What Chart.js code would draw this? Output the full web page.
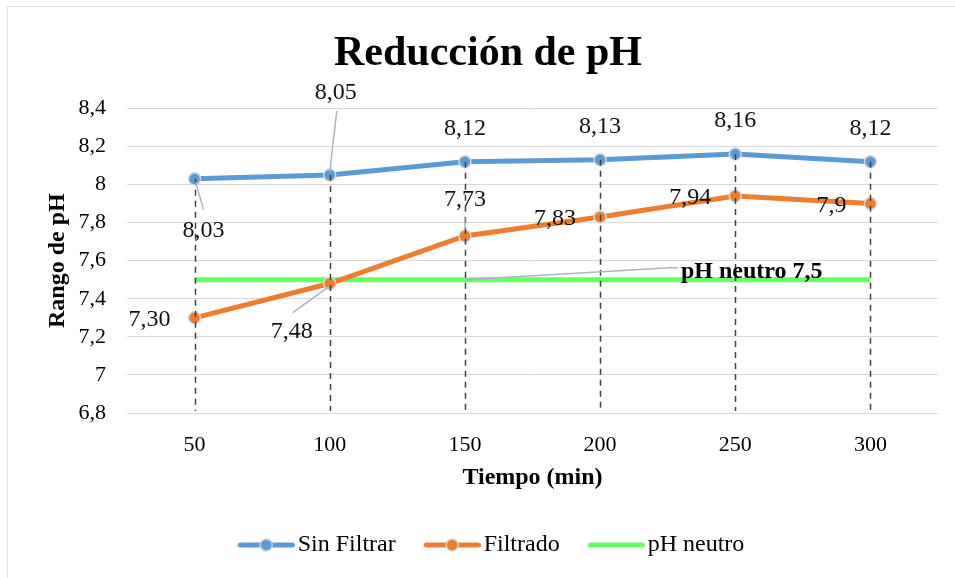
<!DOCTYPE html>
<html><head><meta charset="utf-8">
<script src="https://cdn.jsdelivr.net/npm/chart.js@4/dist/chart.umd.min.js"></script>
<style>
html,body{margin:0;padding:0;background:#fff;}
#wrap{position:relative;width:955px;height:578px;overflow:hidden;background:#fff;}
#frame{position:absolute;left:7px;top:6px;width:1000px;height:1000px;border-left:1px solid #dfe2e7;border-top:1px solid #dfe2e7;}
canvas{position:absolute;left:0;top:0;}
</style></head><body>
<div id="wrap"><div id="frame"></div><canvas id="c" width="955" height="578"></canvas></div>
<script>
// ---- data ----
const categories = ["50","100","150","200","250","300"];
const sinFiltrar = [8.03, 8.05, 8.12, 8.13, 8.16, 8.12];
const filtrado = [7.30, 7.48, 7.73, 7.83, 7.94, 7.90];
const phNeutro = [7.5, 7.5, 7.5, 7.5, 7.5, 7.5];
const sinFiltrarLabels = ["8,03", "8,05", "8,12", "8,13", "8,16", "8,12"];
const filtradoLabels = ["7,30", "7,48", "7,73", "7,83", "7,94", "7,9"];
const phNeutroLabel = "pH neutro 7,5";
const seriesNames = ["Sin Filtrar", "Filtrado", "pH neutro"];
const titleText = "Reducción de pH";
const xTitle = "Tiempo (min)";
const yTitle = "Rango de pH";
const yMin = 6.8, yMax = 8.4, yStep = 0.2;

// ---- styles ----
const BLUE = '#5b9bd5', ORANGE = '#ed7d31', GREEN = '#66ff66';
const SERIF = "'Liberation Serif', 'Times New Roman', serif";

// label placement relative to the point (pixels)
const labelPlacement = [
  [ {dx:9, dy:52, align:'center', leader:[[1,3],[9,31]]},
    {dx:6, dy:-82, align:'center', leader:[[0,-3],[7,-64]]},
    {dx:0, dy:-33, align:'center'}, {dx:0, dy:-33, align:'center'},
    {dx:0, dy:-33, align:'center'}, {dx:0, dy:-33, align:'center'} ],
  [ {dx:-24, dy:2, align:'right'},
    {dx:-38, dy:48, align:'center', leader:[[-1,3],[-37,29]]},
    {dx:0, dy:-36, align:'center', leader:[[0,-7],[0,-19]]},
    {dx:-24, dy:2, align:'right'}, {dx:-24, dy:2, align:'right'}, {dx:-24, dy:2, align:'right'} ]
];
const labelTexts = [sinFiltrarLabels, filtradoLabels];
const phLabelPlacement = {index:2, dx:216, dy:-8, leader:[[0,0],[205,-12],[213,-12]]};

// legend swatch: line + marker drawn into an image
function makeSwatch(color, marker) {
  const c = document.createElement('canvas');
  c.width = 72; c.height = 16;
  const g = c.getContext('2d');
  g.strokeStyle = color; g.lineWidth = 5; g.lineCap = 'round';
  g.beginPath(); g.moveTo(17.5, 8); g.lineTo(69.5, 8); g.stroke();
  if (marker) {
    g.beginPath(); g.arc(43.5, 8, 6, 0, Math.PI * 2);
    g.fillStyle = color; g.fill();
    g.lineWidth = 1.5; g.strokeStyle = '#d6d6d6'; g.stroke();
  }
  return c;
}
const swatches = [makeSwatch(BLUE, true), makeSwatch(ORANGE, true), makeSwatch(GREEN, false)];

const annotationPlugin = {
  id: 'annot',
  afterDatasetsDraw(chart) {
    const ctx = chart.ctx;
    const area = chart.chartArea;
    const m0 = chart.getDatasetMeta(0);
    // drop lines
    ctx.save();
    ctx.strokeStyle = '#404040';
    ctx.lineWidth = 1.5;
    ctx.setLineDash([6, 5]);
    m0.data.forEach(pt => {
      ctx.beginPath();
      ctx.moveTo(Math.round(pt.x) + 0.5, pt.y);
      ctx.lineTo(Math.round(pt.x) + 0.5, area.bottom - 2);
      ctx.stroke();
    });
    ctx.restore();
    // data labels
    ctx.save();
    ctx.font = "24px " + SERIF;
    ctx.textBaseline = 'middle';
    for (let d = 0; d < 2; d++) {
      const meta = chart.getDatasetMeta(d);
      meta.data.forEach((pt, i) => {
        const p = labelPlacement[d][i];
        if (p.leader) {
          ctx.save();
          ctx.strokeStyle = '#a9b4c2'; ctx.lineWidth = 1.5;
          ctx.beginPath();
          ctx.moveTo(pt.x + p.leader[0][0], pt.y + p.leader[0][1]);
          for (let k = 1; k < p.leader.length; k++) ctx.lineTo(pt.x + p.leader[k][0], pt.y + p.leader[k][1]);
          ctx.stroke();
          ctx.restore();
        }
        ctx.fillStyle = '#111';
        ctx.textAlign = p.align;
        ctx.fillText(labelTexts[d][i], pt.x + p.dx, pt.y + p.dy);
      });
    }
    // pH neutro label
    const m2 = chart.getDatasetMeta(2);
    const q = m2.data[phLabelPlacement.index];
    ctx.strokeStyle = '#a9b4c2'; ctx.lineWidth = 1.5;
    ctx.beginPath();
    const L = phLabelPlacement.leader;
    ctx.moveTo(q.x + L[0][0], q.y + L[0][1]);
    for (let k = 1; k < L.length; k++) ctx.lineTo(q.x + L[k][0], q.y + L[k][1]);
    ctx.stroke();
    ctx.font = "bold 24px " + SERIF;
    ctx.fillStyle = '#000';
    ctx.textAlign = 'left';
    ctx.fillText(phNeutroLabel, q.x + phLabelPlacement.dx, q.y + phLabelPlacement.dy);
    ctx.restore();
  }
};

const fmt = v => String(Number(v.toFixed(1))).replace('.', ',');

new Chart(document.getElementById('c'), {
  type: 'line',
  data: {
    labels: categories,
    datasets: [
      { label: seriesNames[0], data: sinFiltrar, borderColor: BLUE, backgroundColor: BLUE,
        borderWidth: 5, pointRadius: 6, pointBorderWidth: 1.5, pointBorderColor: '#d6d6d6',
        pointBackgroundColor: BLUE, tension: 0 },
      { label: seriesNames[1], data: filtrado, borderColor: ORANGE, backgroundColor: ORANGE,
        borderWidth: 5, pointRadius: 6, pointBorderWidth: 1.5, pointBorderColor: '#d6d6d6',
        pointBackgroundColor: ORANGE, tension: 0 },
      { label: seriesNames[2], data: phNeutro, borderColor: GREEN, backgroundColor: GREEN,
        borderWidth: 5, pointRadius: 0, tension: 0 }
    ]
  },
  options: {
    responsive: false,
    animation: false,
    events: [],
    layout: { padding: { left: 38, right: 17, top: 0, bottom: 11 } },
    plugins: {
      title: { display: true, text: titleText, color: '#000',
        font: { family: SERIF, size: 42, weight: 'bold' }, padding: { top: 29, bottom: 29 } },
      legend: {
        position: 'bottom',
        labels: {
          usePointStyle: true, pointStyleWidth: 54, padding: 22, color: '#000',
          font: { family: SERIF, size: 24 },
          generateLabels: (chart) => seriesNames.map((n, i) => ({
            text: n, pointStyle: swatches[i], fillStyle: 'transparent', strokeStyle: 'transparent',
            lineWidth: 0, hidden: false, datasetIndex: i, fontColor: '#000'
          }))
        }
      },
      tooltip: { enabled: false }
    },
    scales: {
      x: {
        type: 'category', offset: true,
        grid: { display: false, drawTicks: false },
        border: { display: false },
        ticks: { color: '#000', font: { family: SERIF, size: 22 }, padding: 19, maxRotation: 0 },
        title: { display: true, text: xTitle, color: '#000',
          font: { family: SERIF, size: 24, weight: 'bold' }, padding: { top: 0, bottom: 19 } },
        afterFit: s => { s.height = 98; }
      },
      y: {
        min: yMin, max: yMax,
        grid: { color: '#d9d9d9', lineWidth: 1, drawTicks: false },
        border: { display: false },
        ticks: { stepSize: yStep, color: '#000', font: { family: SERIF, size: 22 }, padding: 21,
          callback: v => fmt(v) },
        title: { display: true, text: yTitle, color: '#000',
          font: { family: SERIF, size: 24, weight: 'bold' }, padding: { top: 5, bottom: 0 } },
        afterFit: s => { s.width = 89; }
      }
    }
  },
  plugins: [annotationPlugin]
});
</script>
</body></html>
